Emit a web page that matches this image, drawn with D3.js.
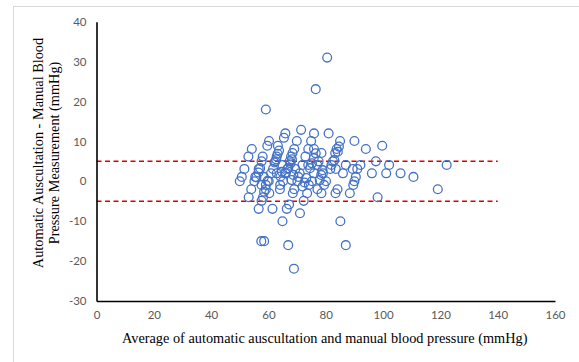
<!DOCTYPE html>
<html><head><meta charset="utf-8">
<script src="https://cdn.jsdelivr.net/npm/d3@7"></script>
<style>body{margin:0;background:#fff;}svg{display:block;}</style>
</head><body>
<svg id="c" width="579" height="362"></svg>
<script>
// mean of the two methods (mmHg)
const meanBP = [80.5,76.5,59.1,71.4,65.9,75.9,81.0,65.4,60.2,69.9,74.9,85.0,90.0,99.7,59.6,63.3,94.0,54.2,69.0,73.9,75.9,83.8,78.5,68.4,83.3,53.0,58.0,62.9,67.9,72.9,97.5,57.6,62.4,67.4,77.5,82.5,102.1,122.2,87.0,92.1,73.9,71.9,77.0,82.0,64.9,51.6,56.6,69.4,91.0,89.4,66.6,61.6,81.6,83.5,96.1,101.1,106.1,86.0,79.0,75.9,70.9,65.9,60.9,62.9,110.6,50.7,55.4,58.4,70.4,90.5,50.0,55.1,60.1,65.1,70.1,75.2,80.1,90.0,57.6,64.1,74.1,79.4,89.6,54.0,59.1,64.0,69.0,77.1,84.1,119.1,60.3,68.5,73.5,78.5,83.4,88.4,53.1,58.1,98.1,57.6,72.3,56.6,61.4,66.4,67.2,71.0,64.9,85.1,57.5,58.5,66.9,87.0,68.9,
 62.1,62.7,63.2,63.7,66.1,66.9,67.7,68.2,71.9,72.6,73.2,74.5,75.2,75.8,76.5,83.0,84.2,84.6,55.8,56.5,57.1,58.5,59.1,59.7,77.9,78.4,78.9,64.2,64.7,68.1,68.7];
// difference automatic - manual (mmHg)
const diffBP = [31.0,23.1,18.0,12.9,12.0,12.0,12.0,10.9,10.1,10.1,10.1,10.1,10.1,8.9,8.9,8.9,8.1,8.1,8.1,8.1,8.1,8.1,7.1,7.1,7.1,6.2,6.2,6.2,6.2,6.2,5.0,5.0,5.0,5.0,5.0,5.0,4.1,4.1,4.1,4.1,4.1,4.1,4.1,4.1,4.1,3.1,3.1,3.1,3.1,3.1,3.1,3.1,3.1,3.1,2.0,2.0,2.0,2.0,2.0,2.0,2.0,2.0,2.0,2.0,1.1,1.1,1.1,1.1,1.1,1.1,0,0,0,0,0,0,0,0,-0.9,-0.9,-0.9,-0.9,-0.9,-2,-2,-2,-2,-2,-2,-2,-3,-3,-3,-3,-3,-3,-4,-4,-4,-4.9,-4.9,-6.9,-6.9,-6.9,-5.8,-8,-10,-10,-15,-15,-16,-16,-21.9,
 4.7,5.5,6.9,7.7,2.2,3.3,4.5,5.5,-1.3,-0.3,0.8,3.3,4.5,5.8,7.0,5.3,7.4,8.7,1.0,2.2,3.3,-2.6,-0.9,0.1,0.3,1.6,2.8,1.2,2.4,0.3,1.6];
const xTicks = [0,20,40,60,80,100,120,140,160];
const yTicks = [-30,-20,-10,0,10,20,30,40];
const limits = [5,-5];
const xLabel = "Average of automatic auscultation and manual blood pressure (mmHg)";
const yLabel = ["Automatic Auscultation - Manual Blood","Pressure Measurement (mmHg)"];

const svg = d3.select("#c");
const L = 96.5, R = 555, T = 21.7, B = 301;
const x = d3.scaleLinear().domain([0,160]).range([L,R]);
const y = d3.scaleLinear().domain([-30,40]).range([B,T]);

// outer border
svg.append("rect").attr("x",13.5).attr("y",6.5).attr("width",600).attr("height",400)
  .attr("fill","none").attr("stroke","#d9d9d9").attr("stroke-width",1);

// limit lines
svg.selectAll(".lim").data(limits).join("line")
  .attr("x1",x(0)).attr("x2",x(140)).attr("y1",d=>y(d)).attr("y2",d=>y(d))
  .attr("stroke","#e00000").attr("stroke-width",1.5).attr("stroke-dasharray","5,3.5");

// points
const pts = meanBP.map((m,i)=>({m, d:diffBP[i]}));
svg.selectAll(".pt").data(pts).join("circle")
  .attr("cx",d=>x(d.m)).attr("cy",d=>y(d.d)).attr("r",4.4)
  .attr("fill","none").attr("stroke","#4472c4").attr("stroke-width",1.3);

// axes
const fmt = d => String(d);
const xAxis = d3.axisBottom(x).tickValues(xTicks).tickFormat(fmt).tickSize(0).tickPadding(10);
const yAxis = d3.axisLeft(y).tickValues(yTicks).tickFormat(fmt).tickSize(0).tickPadding(10);
const gx = svg.append("g").attr("transform",`translate(0,${B})`).call(xAxis);
const gy = svg.append("g").attr("transform",`translate(${L},0)`).call(yAxis);
[gx,gy].forEach(g=>{
  g.select(".domain").attr("stroke","#000").attr("stroke-width",1.6);
  g.selectAll("text").attr("fill","#595959").attr("font-family","Lato, 'Open Sans', sans-serif").attr("font-size",11.5);
});

svg.append("text").attr("x",(L+R)/2-1).attr("y",343)
  .attr("text-anchor","middle").attr("font-family","'Liberation Serif', serif").attr("font-size",14.3)
  .attr("fill","#000").text(xLabel);

const yl = svg.append("text").attr("transform","translate(0,153) rotate(-90)")
  .attr("text-anchor","middle").attr("font-family","'Liberation Serif', serif").attr("font-size",14.3).attr("fill","#000");
yl.append("tspan").attr("x",0).attr("y",43).text(yLabel[0]);
yl.append("tspan").attr("x",0).attr("y",59).text(yLabel[1]);
</script>
</body></html>
